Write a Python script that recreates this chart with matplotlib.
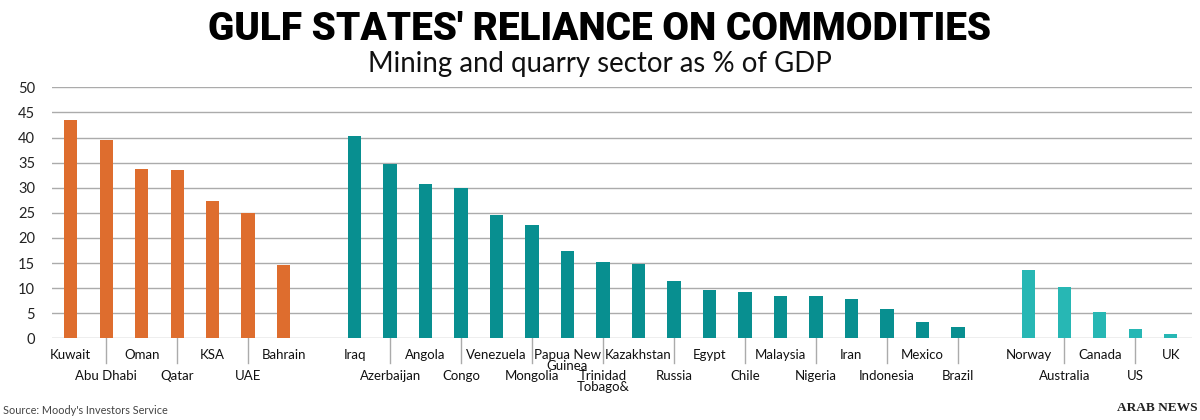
import matplotlib
matplotlib.use("Agg")
import matplotlib.pyplot as plt

# ---- data ----
gulf_names = ["Kuwait", "Abu Dhabi", "Oman", "Qatar", "KSA", "UAE", "Bahrain"]
gulf_vals = [43.5, 39.5, 33.8, 33.5, 27.4, 25.0, 14.7]

em_names = ["Iraq", "Azerbaijan", "Angola", "Congo", "Venezuela", "Mongolia",
            "Papua New\nGuinea", "Trinidad\nTobago&", "Kazakhstan", "Russia",
            "Egypt", "Chile", "Malaysia", "Nigeria", "Iran", "Indonesia",
            "Mexico", "Brazil"]
em_vals = [40.4, 34.7, 30.7, 30.0, 24.6, 22.6, 17.4, 15.3, 14.8, 11.4,
           9.7, 9.2, 8.4, 8.4, 7.8, 5.8, 3.2, 2.3]

dev_names = ["Norway", "Australia", "Canada", "US", "UK"]
dev_vals = [13.6, 10.2, 5.2, 1.8, 0.8]

y_ticks = [0, 5, 10, 15, 20, 25, 30, 35, 40, 45, 50]

title = "GULF STATES' RELIANCE ON COMMODITIES"
subtitle = "Mining and quarry sector as % of GDP"
source = "Source: Moody's Investors Service"
brand = "ARAB NEWS"

# ---- style ----
ORANGE = "#DE6D2E"
TEAL = "#088F90"
LTEAL = "#27B7B4"
GRID = "#ABABAB"
FONT = "Lato"

fig = plt.figure(figsize=(12, 4.2), dpi=100)
ax = fig.add_axes([0.0431, 0.1945, 0.95, 0.5976])

groups = [(gulf_names, gulf_vals, ORANGE, 0),
          (em_names, em_vals, TEAL, len(gulf_names) + 1),
          (dev_names, dev_vals, LTEAL, len(gulf_names) + len(em_names) + 2)]

bw = 0.375
LINE_STEP = 0.0438
xform = ax.get_xaxis_transform()


def put_label(x, y0, name):
    for k, line in enumerate(name.split("\n")):
        ax.text(x, y0 - k * LINE_STEP, line, transform=xform, ha="center",
                va="baseline", fontsize=9.5, family=FONT, color="#111111")


for names, vals, col, start in groups:
    xs = [start + i for i in range(len(vals))]
    ax.bar(xs, vals, width=bw, color=col, zorder=3)
    for i, (x, name) in enumerate(zip(xs, names)):
        if i % 2 == 0:
            put_label(x, -0.0805, name)
        else:
            ax.plot([x, x], [0, -0.0984], transform=xform, color=GRID, lw=1.0,
                    clip_on=False, zorder=2)
            put_label(x, -0.168, name)

ax.set_xlim(-0.535, 31.59)
ax.set_ylim(0, 50)
ax.set_yticks(y_ticks)
ax.set_yticklabels([str(t) for t in y_ticks], family=FONT, fontsize=10.5, color="#222222")
ax.tick_params(axis="y", length=0, pad=12)
ax.set_xticks([])
for t in ax.get_yticklabels():
    t.set_ha("right")
for v in y_ticks:
    ax.axhline(v, color=GRID, lw=1.0, zorder=1)
for s in ax.spines.values():
    s.set_visible(False)

# ---- texts ----
t1 = fig.text(0.5, 0.905, title, ha="center", va="baseline", family="Roboto",
              fontweight="black", fontsize=25, color="#000000")
t2 = fig.text(0.5, 0.8286, subtitle, ha="center", va="baseline", family=FONT,
              fontsize=17, color="#111111")
fig.text(0.0025, 0.0143, source, ha="left", va="baseline", family=FONT,
         fontsize=7.8, color="#444444")
fig.text(0.998, 0.0214, brand, ha="right", va="baseline", family="Liberation Serif",
         fontweight="bold", fontsize=9.6, color="#222222")

renderer = fig.canvas.get_renderer()
for t, target in [(t1, 784), (t2, 463)]:
    w = t.get_window_extent(renderer).width
    t.set_fontsize(t.get_fontsize() * target / w)

fig.savefig("out.png", dpi=100)
